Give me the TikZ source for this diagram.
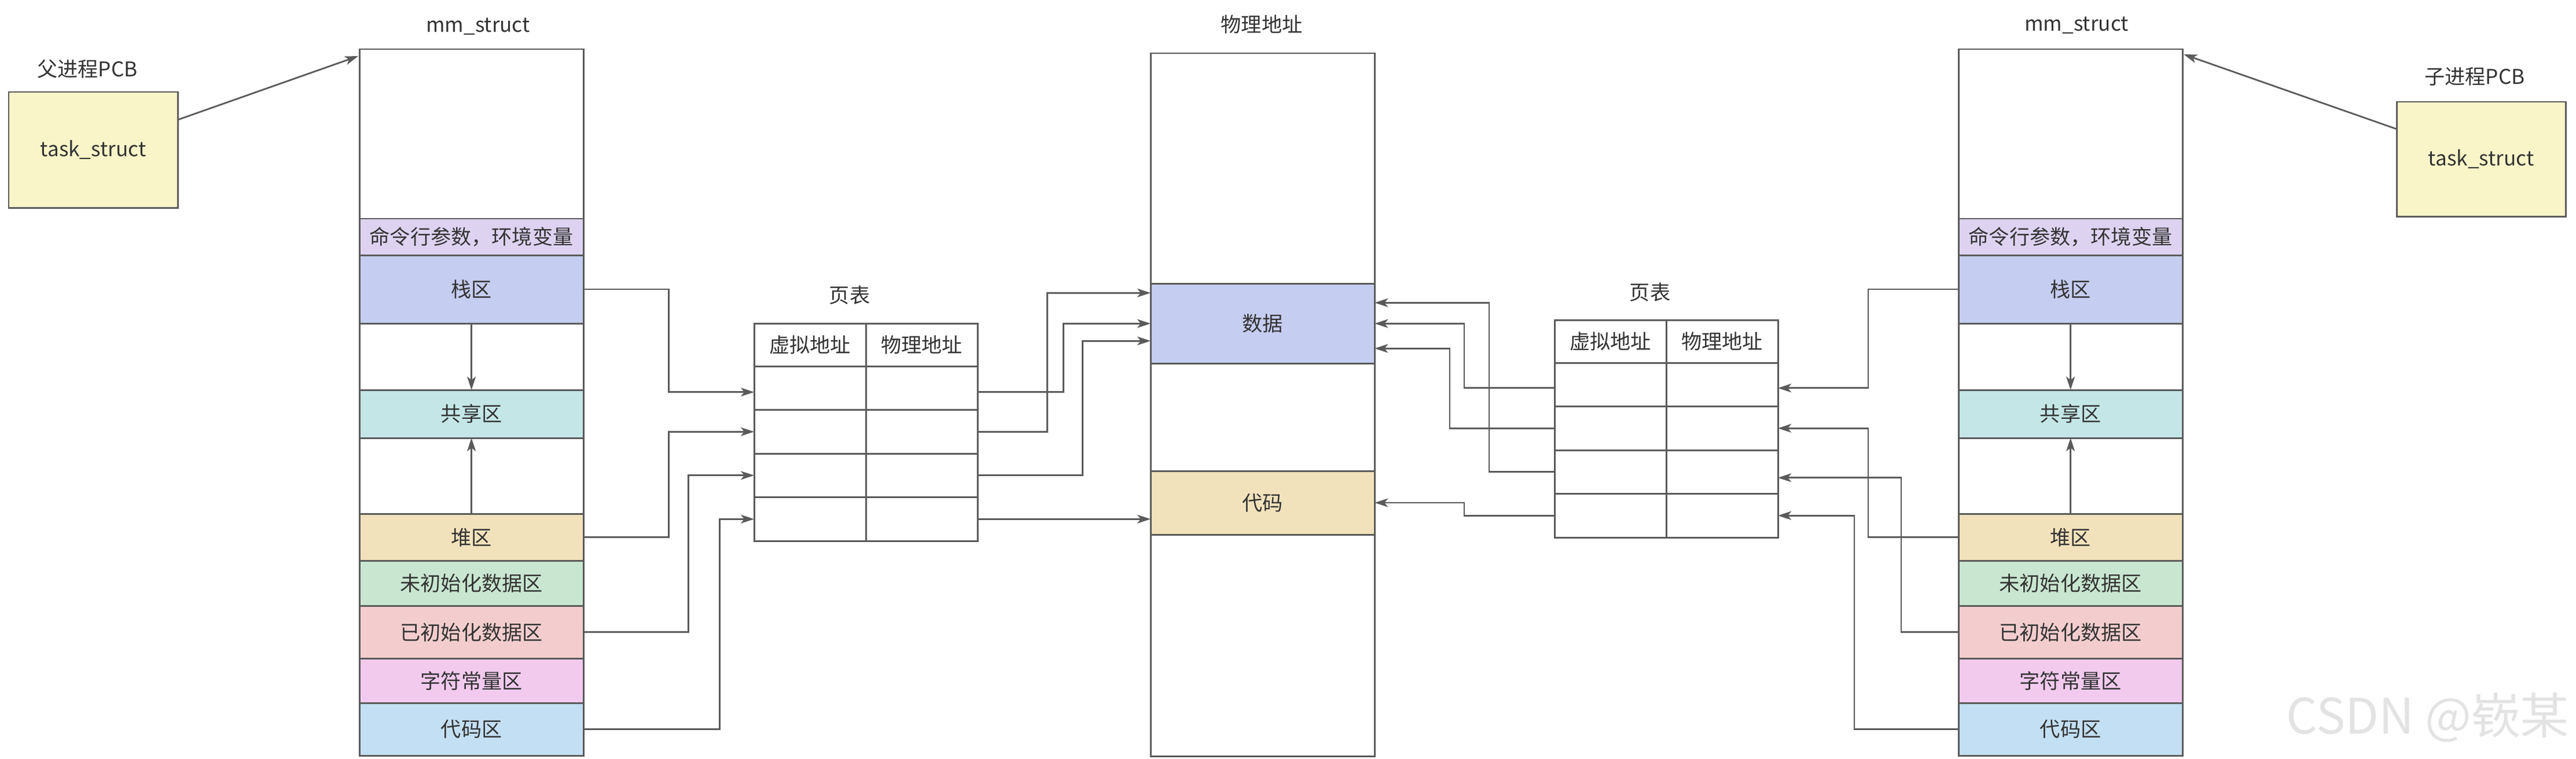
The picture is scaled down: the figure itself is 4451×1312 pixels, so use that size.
\documentclass[tikz,border=0pt]{standalone}
\usepackage{fontspec}
\setmainfont{Noto Sans CJK SC}
\usetikzlibrary{arrows.meta, calc, positioning}

\definecolor{linea}{HTML}{5A5A5A}
\definecolor{testo}{HTML}{333333}
\definecolor{pcbc}{HTML}{FAF5C8}
\definecolor{cmdc}{HTML}{DDD3F1}
\definecolor{stackc}{HTML}{C5CDF0}
\definecolor{sharec}{HTML}{C4E6E6}
\definecolor{heapc}{HTML}{F2E2BC}
\definecolor{bssc}{HTML}{C9E6D0}
\definecolor{initc}{HTML}{F3CDCD}
\definecolor{roc}{HTML}{F2CAEE}
\definecolor{codec}{HTML}{C3DFF3}
\definecolor{wmc}{HTML}{E3E3E3}

\tikzset{
	seg/.style={draw=linea, line width=0.85pt, minimum width=3.87cm, inner sep=0pt, outer sep=0pt,
		anchor=north west, text=testo, font=\fontsize{10}{12}\selectfont},
	cella/.style={seg, minimum width=1.93cm, minimum height=0.755cm},
	testa/.style={cella, minimum height=0.74cm},
	etich/.style={text=testo, inner sep=0pt, font=\fontsize{10}{12}\selectfont},
	conn/.style={draw=linea, line width=0.8pt, -{Stealth[length=0.23cm, width=0.15cm, inset=0.06cm]}},
}

\begin{document}
\begin{tikzpicture}[x=0.01cm, y=-0.01cm]
					\useasboundingbox (0,0) rectangle (4451,1312);
					
					%%% Etichette
					\node [etich] (pcbLlab) at (151,119) {父进程PCB};
					\node [etich] (mmLlab) at (826,46) {mm\_struct};
					\node [etich] (ptLlab) at (1468,510) {页表};
					\node [etich] (physlab) at (2180,42) {物理地址};
					\node [etich] (ptRlab) at (2851,505) {页表};
					\node [etich] (mmRlab) at (3588,44) {mm\_struct};
					\node [etich] (pcbRlab) at (4276,132) {子进程PCB};
					
					%%% PCB
					\node [seg, fill=pcbc, minimum width=2.92cm, minimum height=2cm] (pcbL) at (15,159) {task\_struct};
					\node [seg, fill=pcbc, minimum width=2.92cm, minimum height=1.98cm] (pcbR) at (4141,176) {task\_struct};
					
					%%% mm_struct padre
					\node [seg, minimum height=12.21cm] (mmL) at (621,85) {};
					\node [seg, fill=cmdc, minimum height=0.63cm] (cmdL) at (621,378) {命令行参数，环境变量};
					\node [seg, fill=stackc, minimum height=1.18cm] (stackL) at (621,441) {栈区};
					\node [seg, fill=sharec, minimum height=0.83cm] (shareL) at (621,674) {共享区};
					\node [seg, fill=heapc, minimum height=0.815cm] (heapL) at (621,888) {堆区};
					\node [seg, fill=bssc, minimum height=0.775cm] (bssL) at (621,969.5) {未初始化数据区};
					\node [seg, fill=initc, minimum height=0.915cm] (initL) at (621,1047) {已初始化数据区};
					\node [seg, fill=roc, minimum height=0.765cm] (roL) at (621,1138.5) {字符常量区};
					\node [seg, fill=codec, minimum height=0.91cm] (codeL) at (621,1215) {代码区};
					
					%%% mm_struct figlio
					\node [seg, minimum height=12.21cm] (mmR) at (3384,85) {};
					\node [seg, fill=cmdc, minimum height=0.63cm] (cmdR) at (3384,378) {命令行参数，环境变量};
					\node [seg, fill=stackc, minimum height=1.18cm] (stackR) at (3384,441) {栈区};
					\node [seg, fill=sharec, minimum height=0.83cm] (shareR) at (3384,674) {共享区};
					\node [seg, fill=heapc, minimum height=0.815cm] (heapR) at (3384,888) {堆区};
					\node [seg, fill=bssc, minimum height=0.775cm] (bssR) at (3384,969.5) {未初始化数据区};
					\node [seg, fill=initc, minimum height=0.915cm] (initR) at (3384,1047) {已初始化数据区};
					\node [seg, fill=roc, minimum height=0.765cm] (roR) at (3384,1138.5) {字符常量区};
					\node [seg, fill=codec, minimum height=0.91cm] (codeR) at (3384,1215) {代码区};
					
					%%% Memoria fisica
					\node [seg, minimum height=12.15cm] (phys) at (1988,92) {};
					\node [seg, fill=stackc, minimum height=1.385cm] (dati) at (1988,490) {数据};
					\node [seg, fill=heapc, minimum height=1.1cm] (codice) at (1988,814) {代码};
					
					%%% Tabelle delle pagine
					\node [testa] (hvL) at (1303,559) {虚拟地址};
					\node [testa] (hpL) at (1496,559) {物理地址};
					\node [cella] (vL1) at (1303,633) {};		\node [cella] (pL1) at (1496,633) {};
					\node [cella] (vL2) at (1303,708.5) {};		\node [cella] (pL2) at (1496,708.5) {};
					\node [cella] (vL3) at (1303,784) {};		\node [cella] (pL3) at (1496,784) {};
					\node [cella] (vL4) at (1303,859.5) {};		\node [cella] (pL4) at (1496,859.5) {};
					
					\node [testa] (hvR) at (2686,553) {虚拟地址};
					\node [testa] (hpR) at (2879,553) {物理地址};
					\node [cella] (vR1) at (2686,627) {};		\node [cella] (pR1) at (2879,627) {};
					\node [cella] (vR2) at (2686,702.5) {};		\node [cella] (pR2) at (2879,702.5) {};
					\node [cella] (vR3) at (2686,778) {};		\node [cella] (pR3) at (2879,778) {};
					\node [cella] (vR4) at (2686,853.5) {};		\node [cella] (pR4) at (2879,853.5) {};
					
					%%% Frecce PCB -> mm_struct
					\draw [conn] ($(pcbL.east)+(0,-52)$) -- ($(mmL.north west)+(-2,12)$);
					\draw [conn] ($(pcbR.west)+(0,-52)$) -- ($(mmR.north east)+(2,9)$);
					
					%%% Crescita di stack e heap
					\draw [conn] (stackL.south) -- (shareL.north);
					\draw [conn] (heapL.north) -- (shareL.south);
					\draw [conn] (stackR.south) -- (shareR.north);
					\draw [conn] (heapR.north) -- (shareR.south);
					
					%%% Padre -> tabella
					\draw [conn] (stackL.east) -- ++(147,0) |- ($(vL1.west)+(0,7)$);
					\draw [conn] (heapL.east) -- ++(147,0) |- (vL2.west);
					\draw [conn] (initL.east) -- ++(181,0) |- (vL3.west);
					\draw [conn] (codeL.east) -- ++(235,0) |- (vL4.west);
					
					%%% Tabella -> memoria fisica
					\draw [conn] ($(pL1.east)+(0,7)$) -- ++(148,0) |- (dati.west);
					\draw [conn] (pL2.east) -- ++(120,0) |- ($(dati.west)+(0,-53)$);
					\draw [conn] (pL3.east) -- ++(181,0) |- ($(dati.west)+(0,30)$);
					\draw [conn] (pL4.east) -- (pL4.east -| codice.west);
					
					\draw [conn] ($(vR1.west)+(0,6)$) -- ++(-156,0) |- (dati.east);
					\draw [conn] (vR2.west) -- ++(-181,0) |- ($(dati.east)+(0,43)$);
					\draw [conn] (vR3.west) -- ++(-113,0) |- ($(dati.east)+(0,-36)$);
					\draw [conn] (vR4.west) -- ++(-156,0) |- (codice.east);
					
					%%% Figlio -> tabella
					\draw [conn] (stackR.west) -- ++(-156,0) |- ($(pR1.east)+(0,6)$);
					\draw [conn] (heapR.west) -- ++(-156,0) |- (pR2.east);
					\draw [conn] (initR.west) -- ++(-99,0) |- ($(pR3.east)+(0,10)$);
					\draw [conn] (codeR.west) -- ++(-180,0) |- (pR4.east);
					
					%%% Filigrana
					\node [text=wmc, inner sep=0pt, font=\fontsize{24}{28}\selectfont] (wm) at (4195,1240) {CSDN @嵚某};
\end{tikzpicture}
\end{document}
